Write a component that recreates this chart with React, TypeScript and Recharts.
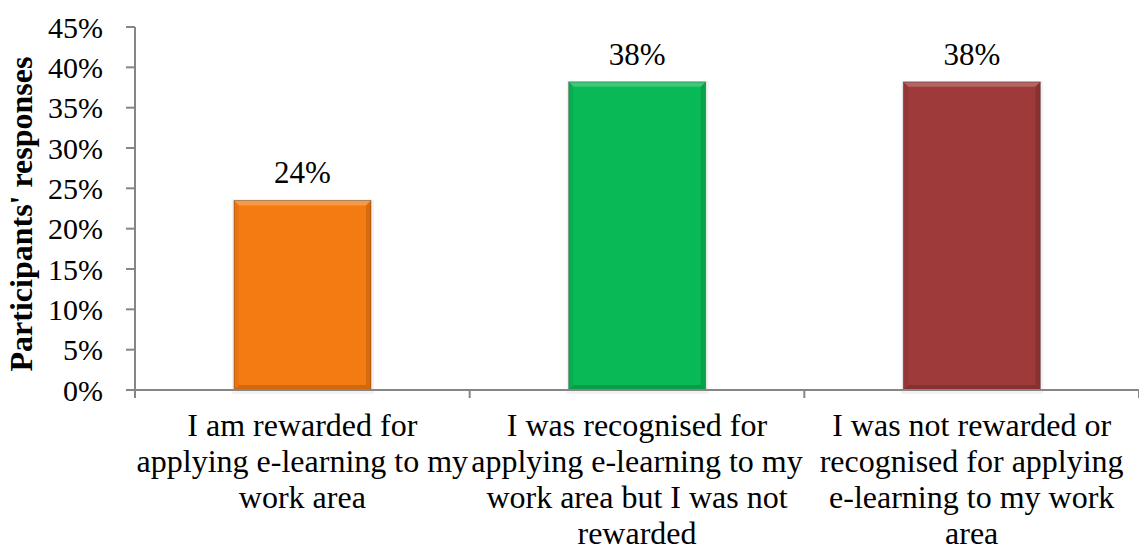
import React from 'react';
import { BarChart, Bar, XAxis, YAxis, Cell, LabelList } from 'recharts';

const categories = [
    'I am rewarded for\napplying e-learning to my\nwork area',
    'I was recognised for\napplying e-learning to my\nwork area but I was not\nrewarded',
    'I was not rewarded or\nrecognised for applying\ne-learning to my work\narea',
];
const responses = [23.5, 38.2, 38.2];
const barColors = ['#F47B12', '#08B955', '#9E3A39'];
const yTicks = [0, 5, 10, 15, 20, 25, 30, 35, 40, 45];

const data = categories.map((name, i) => ({ name, value: responses[i] }));

const FONT = "'Liberation Serif', 'Times New Roman', serif";
const AXIS_COLOR = '#868686';
const WIDTH = 1139;
const HEIGHT = 552;
const Y_AXIS_W = 135;
const STEP = (WIDTH - Y_AXIS_W) / categories.length;

// bar with a soft bevelled edge
const BevelBar = (props: any) => {
    const { x, y, width, height, fill } = props;
    if (!height || height <= 0) return null;
    const b = 5;
    return (
        <g>
            <rect x={x - 2} y={y - 1} width={width + 5} height={height + 5} fill="#000" opacity={0.05} />
            <rect x={x} y={y} width={width} height={height} fill={fill} />
            <polygon
                points={`${x},${y} ${x + width},${y} ${x + width - b},${y + b} ${x + b},${y + b}`}
                fill="#fff"
                opacity={0.22}
            />
            <polygon
                points={`${x},${y + height} ${x + width},${y + height} ${x + width - b},${y + height - b} ${x + b},${y + height - b}`}
                fill="#000"
                opacity={0.15}
            />
            <polygon
                points={`${x + width},${y} ${x + width},${y + height} ${x + width - b},${y + height - b} ${x + width - b},${y + b}`}
                fill="#000"
                opacity={0.12}
            />
            <polygon
                points={`${x},${y} ${x},${y + height} ${x + b},${y + height - b} ${x + b},${y + b}`}
                fill="#000"
                opacity={0.05}
            />
            <rect x={x} y={y} width={width} height={height} fill="none" stroke="#000" strokeOpacity={0.3} strokeWidth={1} />
        </g>
    );
};

// category label split over lines, with a divider tick at the left edge of the band
const CategoryTick = (props: any) => {
    const { x, y, payload, index } = props;
    const lines = String(payload.value).split('\n');
    const left = x - STEP / 2;
    return (
        <g>
            <line x1={left} y1={y - 8} x2={left} y2={y} stroke={AXIS_COLOR} strokeWidth={2} />
            {index === categories.length - 1 && (
                <line x1={x + STEP / 2} y1={y - 8} x2={x + STEP / 2} y2={y} stroke={AXIS_COLOR} strokeWidth={2} />
            )}
            <text x={x} y={y + 38} textAnchor="middle" fontFamily={FONT} fontSize={32} fill="#000">
                {lines.map((line, i) => (
                    <tspan key={i} x={x} dy={i === 0 ? 0 : 36}>
                        {line}
                    </tspan>
                ))}
            </text>
        </g>
    );
};

export default function App() {
    return (
        <div style={{ position: 'absolute', left: 0, top: 0, background: '#fff' }}>
            <BarChart
                width={WIDTH}
                height={HEIGHT}
                data={data}
                margin={{ top: 27, right: 0, left: 0, bottom: 0 }}
            >
                <XAxis
                    dataKey="name"
                    interval={0}
                    height={162}
                    stroke={AXIS_COLOR}
                    strokeWidth={2}
                    tickLine={false}
                    tick={<CategoryTick />}
                />
                <YAxis
                    width={Y_AXIS_W}
                    domain={[0, 45]}
                    ticks={yTicks}
                    interval={0}
                    stroke={AXIS_COLOR}
                    strokeWidth={2}
                    tickSize={9}
                    tickMargin={23}
                    tickFormatter={(v: number) => `${v}%`}
                    tick={{ fill: '#000', fontFamily: FONT, fontSize: 30 }}
                    label={{
                        content: () => (
                            <text
                                x={0}
                                y={0}
                                transform="translate(32, 214) rotate(-90)"
                                textAnchor="middle"
                                fontFamily={FONT}
                                fontWeight="bold"
                                fontSize={32}
                                fill="#000"
                            >
                                Participants' responses
                            </text>
                        ),
                    }}
                />
                <Bar dataKey="value" barSize={137} shape={<BevelBar />} isAnimationActive={false}>
                    {data.map((entry, index) => (
                        <Cell key={`cell-${index}`} fill={barColors[index]} />
                    ))}
                    <LabelList
                        dataKey="value"
                        position="top"
                        offset={17}
                        formatter={(v: any) => `${Math.round(Number(v))}%`}
                        style={{ fill: '#000', fontFamily: FONT, fontSize: 31 }}
                    />
                </Bar>
            </BarChart>
        </div>
    );
}
